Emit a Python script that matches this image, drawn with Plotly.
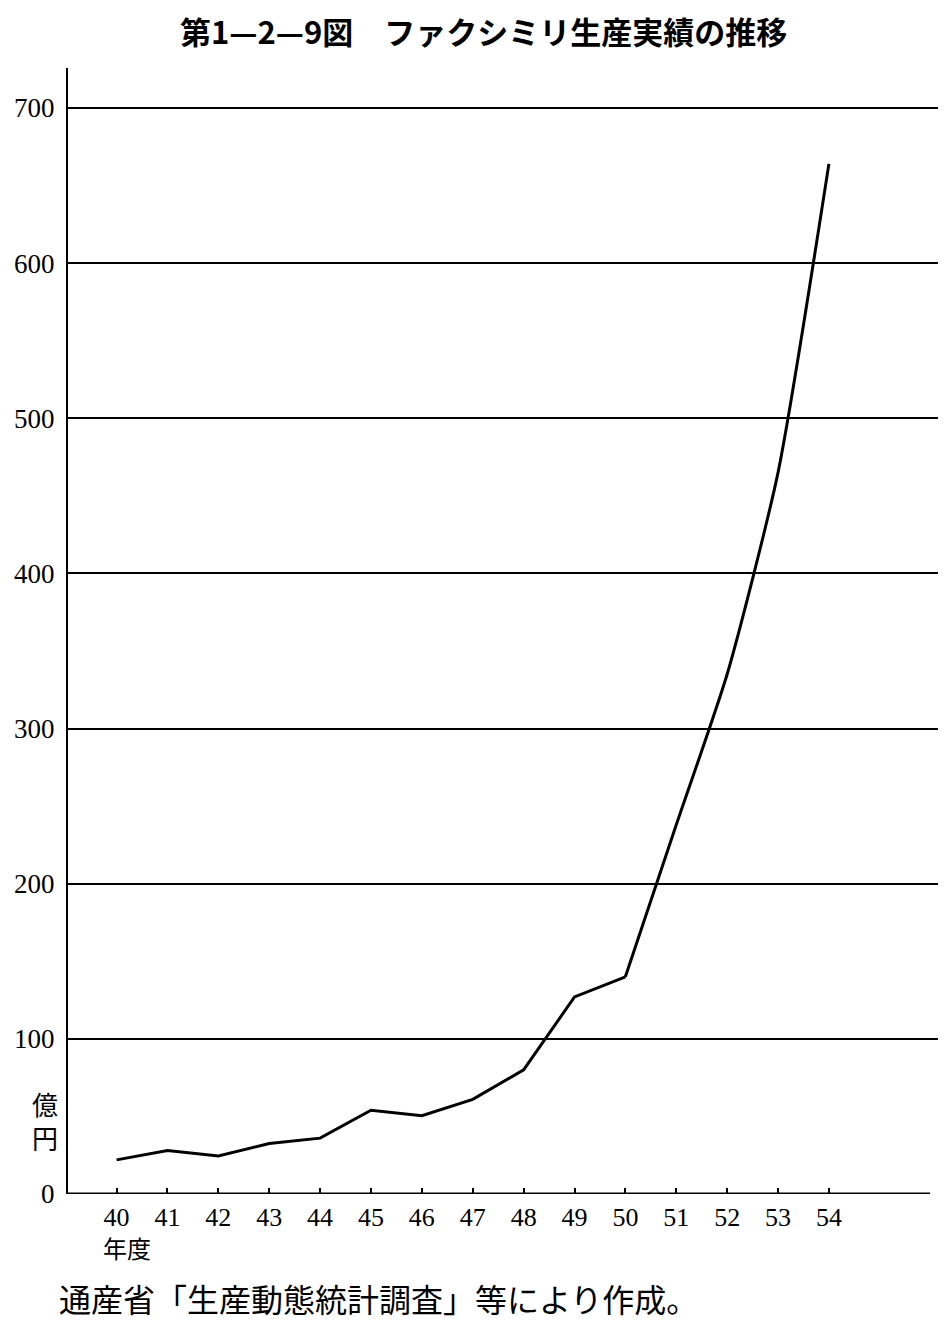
import plotly.graph_objects as go

years = [40, 41, 42, 43, 44, 45, 46, 47, 48, 49, 50, 51, 52, 53, 54]
values = [22, 28, 24.5, 32.5, 36, 54, 50.5, 61, 80, 127, 140, 238, 335, 465, 664]
year_labels = [str(y) for y in years]
y_ticks = [0, 100, 200, 300, 400, 500, 600, 700]

title_text = "第1—2—9図　ファクシミリ生産実績の推移"
unit_text = "億<br>円"
xunit_text = "年度"
source_text = "通産省「生産動態統計調査」等により作成。"

OFF = 8  # page body margin in the browser
W, H = 946 - OFF, 1328 - OFF
L, R, T, B = 61 - OFF, 940 - OFF, 68 - OFF, 1194 - OFF
pw, ph = R - L, B - T

def px(xp):
    return (xp - OFF - L) / pw

def py(yp):
    return (B - (yp - OFF)) / ph

fig = go.Figure()
split = years.index(50)
fig.add_trace(go.Scatter(x=years[:split + 1], y=values[:split + 1], mode="lines",
                         line=dict(color="black", width=3), showlegend=False,
                         hoverinfo="skip"))
fig.add_trace(go.Scatter(x=years[split:], y=values[split:], mode="lines",
                         line=dict(color="black", width=3, shape="spline", smoothing=0.6),
                         showlegend=False, hoverinfo="skip"))

x0 = 40 - (110 - 61) / 51.29
x1 = 54 + (940 - 828) / 51.29

fig.update_layout(
    width=W, height=H,
    margin=dict(l=L, r=W - R, t=T, b=H - B),
    paper_bgcolor="white", plot_bgcolor="white",
    font=dict(family="Liberation Serif", color="black"),
    xaxis=dict(range=[x0, x1], tickvals=years, ticktext=year_labels,
               showgrid=False, zeroline=False, showline=False,
               ticks="inside", ticklen=6, tickwidth=2, tickcolor="black",
               tickfont=dict(family="Liberation Serif", size=26, color="black"),
               ticklabelstandoff=5),
    yaxis=dict(range=[0, (1194 - 68) / 1.5514], tickvals=y_ticks,
               ticktext=[str(v) for v in y_ticks],
               showgrid=True, gridcolor="black", gridwidth=2,
               zeroline=False, showline=True, linecolor="black", linewidth=2,
               ticks="", tickfont=dict(family="Liberation Serif", size=27, color="black"),
               ticklabelstandoff=6),
)

fig.add_shape(type="line", xref="paper", yref="y", x0=0, x1=px(930), y0=0, y1=0,
              line=dict(color="black", width=3))

fig.add_annotation(text=title_text, xref="paper", yref="paper", x=px(480), y=py(30),
                   showarrow=False, xanchor="center", yanchor="middle",
                   font=dict(family="Noto Sans CJK JP", size=31, color="black", weight="bold"))
fig.add_annotation(text=unit_text, xref="paper", yref="paper", x=px(38), y=py(1120),
                   showarrow=False, xanchor="center", yanchor="middle",
                   font=dict(family="Noto Sans CJK JP", size=26, color="black"))
fig.add_annotation(text=xunit_text, xref="paper", yref="paper", x=px(120), y=py(1247),
                   showarrow=False, xanchor="center", yanchor="middle",
                   font=dict(family="Noto Sans CJK JP", size=24, color="black"))
fig.add_annotation(text=source_text, xref="paper", yref="paper", x=px(50), y=py(1298),
                   showarrow=False, xanchor="left", yanchor="middle",
                   font=dict(family="Noto Sans CJK JP", size=32, color="black"))

fig.write_html("out.html")
